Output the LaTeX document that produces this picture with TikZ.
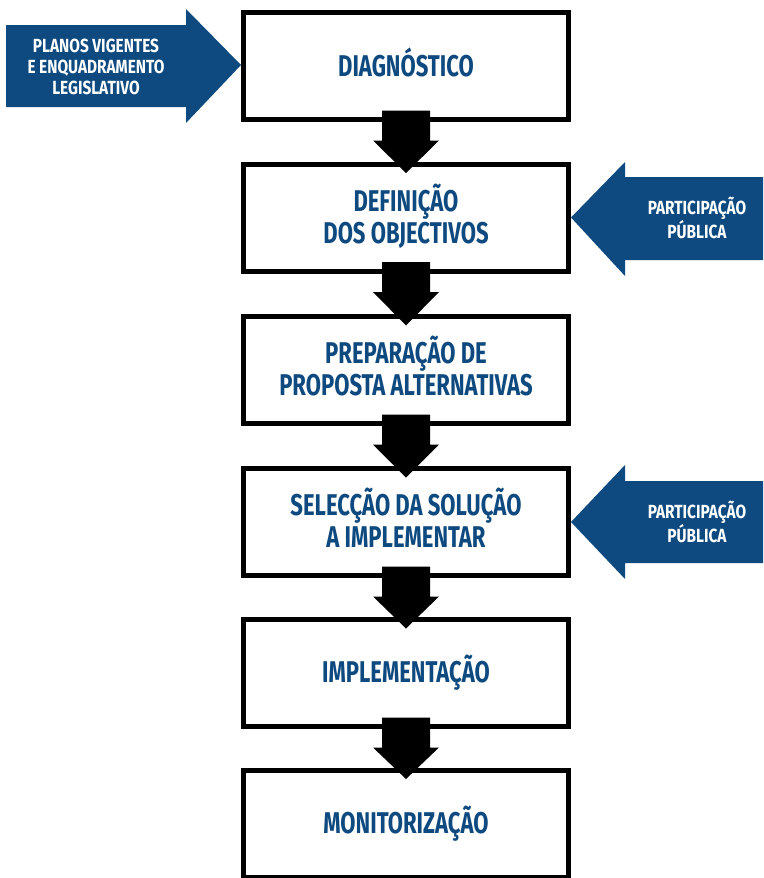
\documentclass[tikz,border=0pt]{standalone}
\usepackage{fontspec}
\setmainfont{Fira Sans}[FakeStretch=0.735]
\newfontfamily\sidefont{Fira Sans}[FakeStretch=0.81]
\usetikzlibrary{calc}
\definecolor{mblue}{RGB}{14,74,127}
\newcommand{\Cph}{\vphantom{Ç}}
\begin{document}
\begin{tikzpicture}[x=1pt,y=-1pt,
  stepbox/.style={draw=black, line width=5pt, fill=white, minimum width=325pt,
    minimum height=107pt, align=center, text=mblue, inner sep=0pt,
    font=\bfseries\fontsize{30}{32}\selectfont},
  downarrow/.style={fill=black},
  bluearrow/.style={fill=mblue},
  sidetext/.style={text=white, align=center, inner sep=0pt,
    font=\sidefont\bfseries\fontsize{19}{21}\selectfont}]
\useasboundingbox (0,0) rectangle (763,878);
\node[stepbox] (d1) at (406,66) {DIAGNÓSTICO\Cph};
\node[stepbox] (d2) at (406,217.5) {DEFINIÇÃO\\DOS OBJECTIVOS\Cph};
\node[stepbox] (d3) at (406,370) {PREPARAÇÃO DE\\PROPOSTA ALTERNATIVAS\Cph};
\node[stepbox] (d4) at (406,522) {SELECÇÃO DA SOLUÇÃO\\A IMPLEMENTAR\Cph};
\node[stepbox] (d5) at (406,673) {IMPLEMENTAÇÃO};
\node[stepbox] (d6) at (406,823.5) {MONITORIZAÇÃO};
\foreach \a/\b in {d1/d2,d2/d3,d3/d4,d4/d5,d5/d6}{
  \fill[downarrow] ($(\a.south)+(-24,-11.5)$) -- ($(\a.south)+(24,-11.5)$)
    -- ($(\a.south)+(24,18.5)$) -- ($(\a.south)+(33,18.5)$)
    -- ($(\b.north)+(0,11.5)$) -- ($(\a.south)+(-33,18.5)$)
    -- ($(\a.south)+(-24,18.5)$) -- cycle;
}
% left input arrow
\fill[bluearrow] (6,25) -- (186,25) -- (186,9) -- ($(d1.west)+(0,-1)$)
  -- (186,123) -- (186,107) -- (6,107) -- cycle;
\node[sidetext] (lt) at (96,66.5) {PLANOS VIGENTES\\E ENQUADRAMENTO\\LEGISLATIVO};
% right arrows
\fill[bluearrow] (d2.east) -- (625,162) -- (625,177) -- (763,177) -- (763,260)
  -- (625,260) -- (625,276) -- cycle;
\node[sidetext] (rt1) at (697,220) {PARTICIPAÇÃO\\PÚBLICA\vphantom{Ç}};
\fill[bluearrow] (d4.east) -- (625,465) -- (625,481) -- (763,481) -- (763,563)
  -- (625,563) -- (625,579) -- cycle;
\node[sidetext] (rt2) at (697,524) {PARTICIPAÇÃO\\PÚBLICA\vphantom{Ç}};
\end{tikzpicture}
\end{document}
